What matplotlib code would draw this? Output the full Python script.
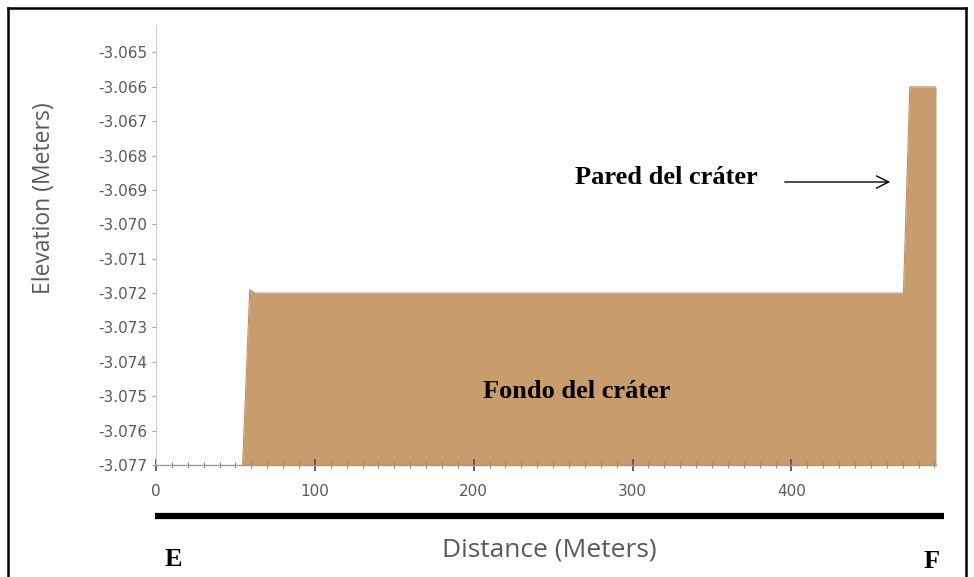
import matplotlib.pyplot as plt
from matplotlib.lines import Line2D

# Elevation profile E-F across the crater
distance = [0, 54.5, 59.0, 62.0, 470.5, 474.5, 478.0, 491.0]
elevation = [-3.077, -3.077, -3.0719, -3.0720, -3.0720, -3.0660, -3.0660, -3.0660]

y_ticks = [-3.065, -3.066, -3.067, -3.068, -3.069, -3.070,
           -3.071, -3.072, -3.073, -3.074, -3.075, -3.076, -3.077]
x_ticks = [0, 100, 200, 300, 400]

FILL = '#c89c6c'
GREY = '#5a5a5a'

fig = plt.figure(figsize=(9.74, 5.77), dpi=100)
ax = fig.add_axes([156 / 974, 1 - 465 / 577, (936 - 156) / 974, (465 - 25) / 577])

ax.fill_between(distance, elevation, -3.077, color=FILL, lw=0)
ax.plot(distance[1:], elevation[1:], color='#bf9464', lw=0.8)

ax.set_xlim(0, 491)
ax.set_ylim(-3.077, -3.0642)

ax.set_yticks(y_ticks)
ax.set_yticklabels([f'{v:.3f}' for v in y_ticks])
ax.set_xticks(x_ticks)
ax.set_xticks(range(0, 491, 10), minor=True)

ax.tick_params(axis='y', direction='out', length=3, width=0.8, color='#aaaaaa',
               labelsize=11, labelcolor=GREY, pad=3)
ax.tick_params(axis='x', which='major', direction='inout', length=9, width=1.3,
               color='#555555', labelsize=11, labelcolor=GREY, pad=9)
ax.tick_params(axis='x', which='minor', direction='inout', length=4, width=0.8,
               color='#888888')

for side in ('top', 'right'):
    ax.spines[side].set_visible(False)
ax.spines['left'].set_color('#cccccc')
ax.spines['bottom'].set_color('#999999')
ax.spines['bottom'].set_linewidth(1.0)
ax.set_zorder(2)
ax.patch.set_alpha(0)

fig.text(44 / 974, 1 - 198 / 577, 'Elevation (Meters)', rotation=90,
         ha='center', va='center', fontsize=16.5, color=GREY, family='Open Sans')
fig.text(549 / 974, 1 - 550 / 577, 'Distance (Meters)', ha='center', va='center',
         fontsize=19, color=GREY, family='Open Sans')

# profile endpoints and bar along the section
fig.add_artist(Line2D([155 / 974, 944 / 974], [1 - 516 / 577] * 2,
                      color='black', lw=4.5, solid_capstyle='butt'))
serif = dict(family='Liberation Serif', fontweight='bold', color='black')
fig.text(173 / 974, 1 - 560 / 577, 'E', ha='center', va='center', fontsize=19, **serif)
fig.text(932 / 974, 1 - 562 / 577, 'F', ha='center', va='center', fontsize=19, **serif)

fig.text(666 / 974, 1 - 177 / 577, 'Pared del cráter', ha='center', va='center',
         fontsize=19, **serif)
fig.text(577 / 974, 1 - 391 / 577, 'Fondo del cráter', ha='center', va='center',
         fontsize=19, **serif)
ax.annotate('', xy=(893 / 974, 1 - 182 / 577), xytext=(782 / 974, 1 - 182 / 577),
            xycoords='figure fraction', textcoords='figure fraction',
            arrowprops=dict(arrowstyle='->', color='black', lw=1.0,
                            mutation_scale=22))

# outer frame
frame = dict(color='black', lw=1.8)
fig.add_artist(Line2D([8 / 974, 8 / 974], [0, 1 - 8 / 577], **frame))
fig.add_artist(Line2D([8 / 974, 966 / 974], [1 - 8 / 577] * 2, **frame))
fig.add_artist(Line2D([966 / 974, 966 / 974], [0, 1 - 8 / 577], **frame))

fig.savefig('out.png', dpi=100)
